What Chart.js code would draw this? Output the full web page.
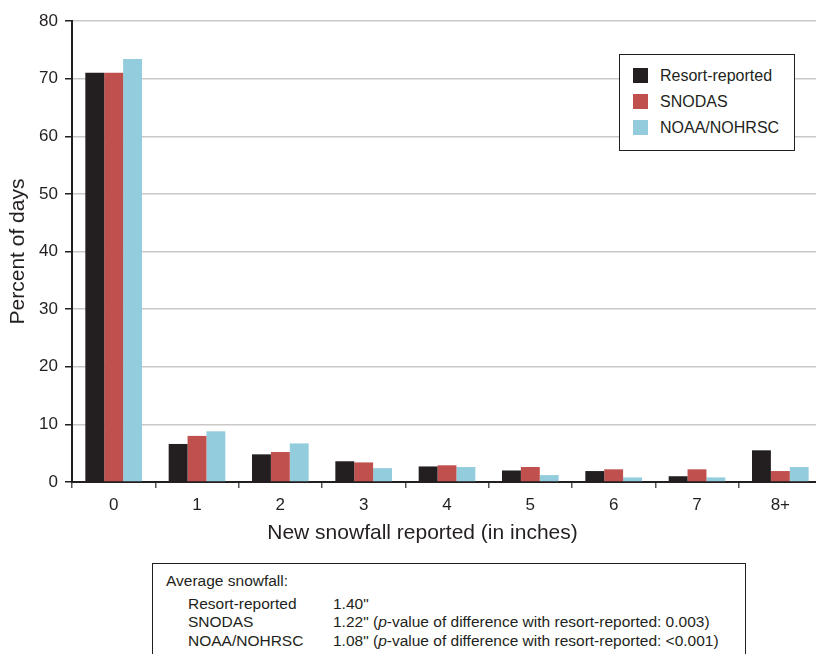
<!DOCTYPE html>
<html>
<head>
<meta charset="utf-8">
<script src="https://cdn.jsdelivr.net/npm/chart.js@4"></script>
<style>
  html, body { margin: 0; padding: 0; background: #fff; overflow: hidden; }
  body { width: 816px; height: 654px; position: relative; font-family: "Liberation Sans", Arial, sans-serif; color: #231f20; }
  #wrap { position: absolute; left: 0; top: 0; width: 822px; height: 560px; }
  #xTitle { position: absolute; left: 0; width: 845px; top: 520px; text-align: center; font-size: 21px; }
  #legend { position: absolute; left: 619px; top: 54px; width: 176px; height: 97px; border: 1.5px solid #231f20; background: #fff; font-size: 16px; box-sizing: border-box; padding-top: 12px; }
  #legend div { height: 26px; line-height: 18px; padding-left: 13px; }
  #legend span.sw { display: inline-block; width: 15px; height: 15px; vertical-align: -2px; margin-right: 12px; }
  #avgBox { position: absolute; left: 152px; top: 563px; width: 594px; height: 110px; border: 1.5px solid #231f20; box-sizing: border-box; font-size: 15.5px; padding: 8px 0 0 13px; line-height: 18.5px; }
  #avgBox table { border-collapse: collapse; margin-left: 22px; margin-top: 4px; }
  #avgBox td { padding: 0; line-height: 18.5px; }
  #avgBox td.nm { width: 145px; }
</style>
</head>
<body>
<div id="wrap"><canvas id="chart" width="822" height="560"></canvas></div>
<div id="xTitle">New snowfall reported (in inches)</div>
<div id="legend"></div>
<div id="avgBox"><div>Average snowfall:</div><table id="avgTable"></table></div>
<script>
const categories = ['0', '1', '2', '3', '4', '5', '6', '7', '8+'];
const resortReported = [71.0, 6.6, 4.8, 3.6, 2.7, 2.0, 1.9, 1.0, 5.5];
const snodas = [71.0, 8.0, 5.2, 3.4, 2.9, 2.6, 2.2, 2.2, 1.9];
const noaa = [73.4, 8.8, 6.7, 2.4, 2.6, 1.2, 0.8, 0.8, 2.6];
const seriesNames = ['Resort-reported', 'SNODAS', 'NOAA/NOHRSC'];
const seriesColors = ['#231f20', '#c0504d', '#93cddd'];
const avgValues = ['1.40"', '1.22"', '1.08"'];
const avgNotes = ['', ' (<i>p</i>-value of difference with resort-reported: 0.003)', ' (<i>p</i>-value of difference with resort-reported: &lt;0.001)'];

const ink = '#231f20';
const font = 'Liberation Sans';

const chart = new Chart(document.getElementById('chart'), {
  type: 'bar',
  data: {
    labels: categories,
    datasets: [resortReported, snodas, noaa].map((d, i) => ({
      label: seriesNames[i],
      data: d,
      backgroundColor: seriesColors[i],
      borderWidth: 0,
      categoryPercentage: 0.68,
      barPercentage: 1.0
    }))
  },
  options: {
    responsive: false,
    animation: false,
    layout: { padding: { top: 21, left: 6, right: 0, bottom: 0 } },
    plugins: { legend: { display: false }, tooltip: { enabled: false } },
    scales: {
      x: {
        offset: true,
        grid: { display: true, drawOnChartArea: false, offset: true, tickLength: 6, color: '#555', lineWidth: 1.5 },
        border: { color: ink, width: 2 },
        ticks: { color: ink, font: { family: font, size: 17 }, padding: 7 },
        afterFit: s => { s.height = 560 - 482; }
      },
      y: {
        min: 0, max: 80,
        ticks: { stepSize: 10, color: ink, font: { family: font, size: 17 }, padding: 7 },
        grid: { color: '#c8c8c8', lineWidth: 1.5, tickLength: 7, tickColor: ink },
        border: { color: ink, width: 2 },
        title: { display: true, text: 'Percent of days', color: ink, font: { family: font, size: 21 }, padding: { top: 0, bottom: 4 } },
        afterFit: s => { s.width = 66; }
      }
    }
  }
});

// legend from the datasets
const legend = document.getElementById('legend');
chart.data.datasets.forEach(ds => {
  const row = document.createElement('div');
  row.innerHTML = '<span class="sw" style="background:' + ds.backgroundColor + '"></span>' + ds.label;
  legend.appendChild(row);
});

// average snowfall table
const tbl = document.getElementById('avgTable');
seriesNames.forEach((n, i) => {
  const tr = document.createElement('tr');
  tr.innerHTML = '<td class="nm">' + n + '</td><td>' + avgValues[i] + avgNotes[i] + '</td>';
  tbl.appendChild(tr);
});
</script>
</body>
</html>
